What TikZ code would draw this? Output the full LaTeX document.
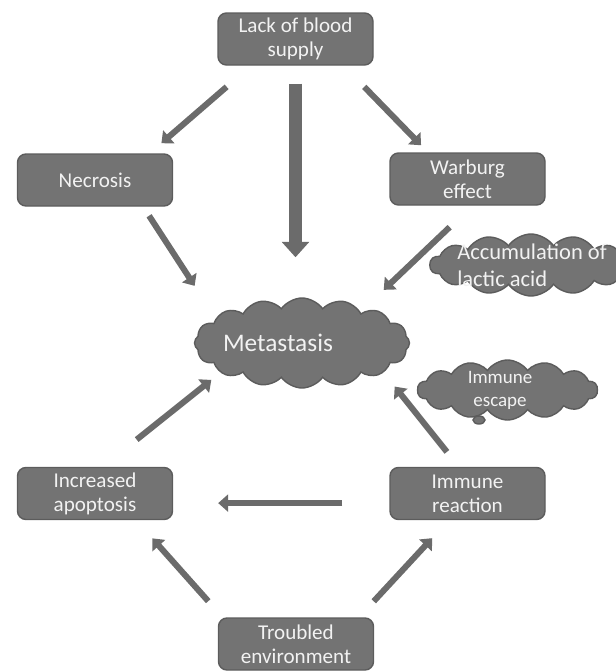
\documentclass[tikz,border=0pt]{standalone}
\usepackage{fontspec}
\setmainfont{Carlito}
\usetikzlibrary{arrows.meta,shapes.symbols,positioning}
\newcommand{\pxu}{0.025cm}
\definecolor{boxgray}{HTML}{737373}
\definecolor{edgegray}{HTML}{5C5C5C}
\definecolor{arrowgray}{HTML}{6B6B6B}
\definecolor{textwhite}{HTML}{F2F2F2}

\begin{document}
\begin{tikzpicture}[x=\pxu,y=-\pxu,
    box/.style={rectangle,rounded corners=6pt,fill=boxgray,draw=edgegray,line width=1pt,
                text=textwhite,align=center,minimum width=155*\pxu,minimum height=52*\pxu,
                inner sep=1pt,font=\fontsize{15}{17}\selectfont},
    puff/.style={cloud,cloud puffs=16,cloud puff arc=110,cloud ignores aspect,fill=boxgray,
                 draw=edgegray,line width=1pt,inner sep=0pt},
    puff text/.style={text=textwhite,align=left},
    arr/.style={draw=arrowgray,line width=4.3pt,-{Triangle[length=7pt,width=12pt]}},
    bigarr/.style={draw=arrowgray,line width=9pt,-{Triangle[length=11pt,width=19pt]}}]
  \useasboundingbox (0,0) rectangle (616,671);

  \node[box] (lack)  at (295.5,39)    {Lack of blood\\supply};
  \node[box] (necro) at (95,180)      {Necrosis};
  \node[box] (warb)  at (467.5,179)   {Warburg\\effect};
  \node[box] (apop)  at (95,493.5)    {Increased\\apoptosis};
  \node[box] (immr)  at (467.5,493.5) {Immune\\reaction};
  \node[box] (trbl)  at (296,644)     {Troubled\\environment};

  \node[puff,minimum width=215*\pxu,minimum height=90*\pxu,
        label={[puff text,xshift=-24*\pxu,font=\fontsize{18}{20}\selectfont]center:Metastasis}]
        (meta) at (302,343) {};
  \node[puff,cloud puffs=14,minimum width=202*\pxu,minimum height=62*\pxu,
        label={[puff text,xshift=1*\pxu,font=\fontsize{16}{19}\selectfont]center:Accumulation of\\lactic acid}]
        (acc) at (531,265) {};
  \node[puff,cloud puffs=14,minimum width=180*\pxu,minimum height=60*\pxu,
        label={[puff text,align=center,xshift=-7.5*\pxu,font=\fontsize{13.5}{16.4}\selectfont]center:Immune\\escape}]
        (imesc) at (507.5,390) {};
  \draw[fill=boxgray,draw=edgegray,line width=1pt] (479,420) ellipse [x radius=6,y radius=4];

  \draw[bigarr,shorten <=18*\pxu,shorten >=40*\pxu] (lack.south) -- (lack.south |- meta.north);
  \path (lack.211)   edge[arr,shorten <=32.3*\pxu,shorten >=15.4*\pxu] (necro.26)
        (lack.-29)   edge[arr,shorten <=29.5*\pxu,shorten >=9.8*\pxu]  (warb.146)
        (necro.-29)  edge[arr,shorten <=10.8*\pxu,shorten >=38.6*\pxu] (meta.164)
        (warb.-80)   edge[arr,shorten <=31.1*\pxu,shorten >=32*\pxu]   (meta.28)
        (apop.74)    edge[arr,shorten <=43.6*\pxu,shorten >=11.6*\pxu] (meta.200)
        (immr.108)   edge[arr,shorten <=19.1*\pxu,shorten >=17.7*\pxu] (meta.-20)
        (immr.187)   edge[arr,shorten <=47*\pxu,shorten >=45*\pxu]     (apop.-7)
        (trbl.160)   edge[arr,shorten <=21.6*\pxu,shorten >=24.3*\pxu] (apop.-33)
        (trbl.23)    edge[arr,shorten <=21.8*\pxu,shorten >=24.5*\pxu] (immr.-125);
\end{tikzpicture}
\end{document}
